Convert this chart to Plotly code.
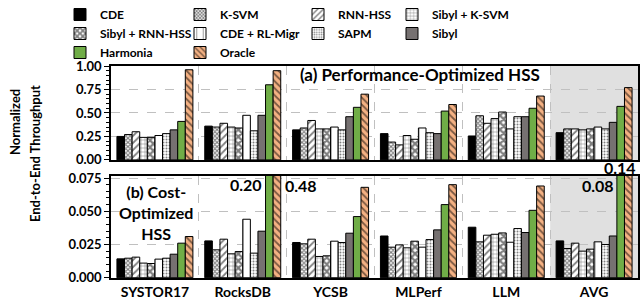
import plotly.graph_objects as go

categories = ["SYSTOR17", "RocksDB", "YCSB", "MLPerf", "LLM", "AVG"]
series_names = ["CDE", "K-SVM", "RNN-HSS", "Sibyl + K-SVM", "Sibyl + RNN-HSS",
                "CDE + RL-Migr", "SAPM", "Sibyl", "Harmonia", "Oracle"]

# (a) Performance-Optimized HSS
perf_cde = [0.25, 0.36, 0.32, 0.28, 0.255, 0.29]
perf_ksvm = [0.27, 0.35, 0.34, 0.19, 0.47, 0.33]
perf_rnn = [0.30, 0.39, 0.42, 0.16, 0.39, 0.33]
perf_sibyl_ksvm = [0.24, 0.35, 0.33, 0.26, 0.44, 0.32]
perf_sibyl_rnn = [0.24, 0.34, 0.33, 0.22, 0.51, 0.33]
perf_cde_rl = [0.26, 0.475, 0.35, 0.34, 0.33, 0.35]
perf_sapm = [0.28, 0.31, 0.32, 0.29, 0.46, 0.33]
perf_sibyl = [0.32, 0.475, 0.46, 0.28, 0.46, 0.40]
perf_harmonia = [0.41, 0.80, 0.56, 0.52, 0.55, 0.57]
perf_oracle = [0.96, 0.95, 0.70, 0.59, 0.68, 0.77]

# (b) Cost-Optimized HSS
cost_cde = [0.0142, 0.0277, 0.0265, 0.0314, 0.038, 0.0277]
cost_ksvm = [0.0147, 0.021, 0.0255, 0.023, 0.027, 0.022]
cost_rnn = [0.0155, 0.029, 0.029, 0.0247, 0.032, 0.026]
cost_sibyl_ksvm = [0.011, 0.018, 0.016, 0.0225, 0.0327, 0.020]
cost_sibyl_rnn = [0.0107, 0.0197, 0.0165, 0.0275, 0.0337, 0.0215]
cost_cde_rl = [0.014, 0.044, 0.0275, 0.023, 0.0267, 0.027]
cost_sapm = [0.0147, 0.0185, 0.0265, 0.0287, 0.037, 0.025]
cost_sibyl = [0.0177, 0.035, 0.0335, 0.036, 0.034, 0.0314]
cost_harmonia = [0.026, 0.20, 0.046, 0.055, 0.0507, 0.08]
cost_oracle = [0.031, 0.48, 0.068, 0.070, 0.069, 0.14]

# Tick values
perf_ticks = [0.0, 0.25, 0.5, 0.75, 1.0]
cost_ticks = [0.0, 0.025, 0.05, 0.075]

# Off-scale labels in panel (b)
offscale_labels = ["0.20", "0.48", "0.08", "0.14"]

perf = [perf_cde, perf_ksvm, perf_rnn, perf_sibyl_ksvm, perf_sibyl_rnn,
        perf_cde_rl, perf_sapm, perf_sibyl, perf_harmonia, perf_oracle]
cost = [cost_cde, cost_ksvm, cost_rnn, cost_sibyl_ksvm, cost_sibyl_rnn,
        cost_cde_rl, cost_sapm, cost_sibyl, cost_harmonia, cost_oracle]

styles = [
    dict(color="black", pattern=dict(shape="")),
    dict(color="white", pattern=dict(shape="x", fgcolor="black", bgcolor="white", size=3, solidity=0.6)),
    dict(color="white", pattern=dict(shape="/", fgcolor="black", bgcolor="white", size=5, solidity=0.35)),
    dict(color="white", pattern=dict(shape="+", fgcolor="black", bgcolor="white", size=4, solidity=0.25)),
    dict(color="white", pattern=dict(shape="x", fgcolor="black", bgcolor="white", size=5, solidity=0.7)),
    dict(color="white", pattern=dict(shape="|", fgcolor="black", bgcolor="white", size=8, solidity=0.12)),
    dict(color="white", pattern=dict(shape=".", fgcolor="black", bgcolor="white", size=3, solidity=0.35)),
    dict(color="#767171", pattern=dict(shape="")),
    dict(color="#70ad47", pattern=dict(shape="")),
    dict(color="#f4b183", pattern=dict(shape="\\", fgcolor="black", bgcolor="#f4b183", size=5, solidity=0.35)),
]

FONT = "Lato"
fig = go.Figure()
legend_ids = ["legend", "legend2", "legend3", "legend4"]

for i, name in enumerate(series_names):
    st = styles[i]
    marker = dict(color=st["color"], line=dict(color="black", width=1))
    if st["pattern"]["shape"]:
        marker["pattern"] = st["pattern"]
    fig.add_trace(go.Bar(x=categories, y=perf[i], name=name, marker=marker,
                         xaxis="x2", yaxis="y2", showlegend=True,
                         legend=legend_ids[i % 4], legendgroup=name))
    fig.add_trace(go.Bar(x=categories, y=cost[i], name=name, marker=marker,
                         xaxis="x", yaxis="y", showlegend=False, legendgroup=name))

tickfont = dict(family=FONT, size=13, color="black", weight="bold")
grid = dict(showgrid=True, gridcolor="#c0c0c0", griddash="dash", gridwidth=1)

fig.update_layout(
    width=640, height=307,
    margin=dict(l=111, r=2, t=66, b=29, autoexpand=False),
    plot_bgcolor="white", paper_bgcolor="white",
    barmode="group", bargap=0.135, bargroupgap=0,
    font=dict(family=FONT, color="black"),
    xaxis=dict(domain=[0, 1], anchor="y", type="category", tickson="boundaries",
               ticks="", showline=True, linecolor="black", linewidth=1.5, mirror=True,
               tickfont=dict(family=FONT, size=14, color="black", weight="bold"), **grid),
    xaxis2=dict(domain=[0, 1], anchor="y2", type="category", tickson="boundaries",
                ticks="", showticklabels=False,
                showline=True, linecolor="black", linewidth=1.5, mirror=True, **grid),
    yaxis=dict(domain=[0, 0.481], anchor="x", range=[-0.0002, 0.0765],
               tickmode="array", tickvals=cost_ticks,
               ticktext=[f"{v:.3f}" for v in cost_ticks],
               ticks="outside", ticklen=5, tickcolor="black", ticklabeloverflow="allow",
               minor=dict(tickmode="linear", tick0=0, dtick=0.005, ticks="outside", ticklen=3,
                          tickcolor="black", showgrid=False),
               showline=True, linecolor="black", linewidth=1.5, mirror=True,
               tickfont=tickfont, zeroline=False, **grid),
    yaxis2=dict(domain=[0.557, 1], anchor="x2", range=[0, 1.0],
                tickmode="array", tickvals=perf_ticks,
                ticktext=[f"{v:.2f}" for v in perf_ticks],
                ticks="outside", ticklen=5, tickcolor="black", ticklabeloverflow="allow",
                minor=dict(tickmode="linear", tick0=0, dtick=0.05, ticks="outside", ticklen=3,
                           tickcolor="black", showgrid=False),
                showline=True, linecolor="black", linewidth=1.5, mirror=True,
                tickfont=tickfont, zeroline=False, **grid),
)

leg_font = dict(family=FONT, size=12, color="black", weight="bold")
leg_x = [60, 180, 298, 392]
for lid, lx in zip(legend_ids, leg_x):
    fig.update_layout({lid: dict(orientation="v", xref="container", yref="container",
                                 x=lx / 640, y=1, xanchor="left", yanchor="top",
                                 bgcolor="rgba(0,0,0,0)", font=leg_font,
                                 tracegroupgap=0)})

# AVG shaded region
for xr, yr in [("x", "y domain"), ("x2", "y2 domain")]:
    fig.add_shape(type="rect", xref=xr, yref=yr, x0=4.5, x1=5.5, y0=0, y1=1,
                  fillcolor="#e0e0e0", line=dict(width=0), layer="below")

ann_font = dict(family=FONT, size=16, color="black", weight="bold")
fig.add_annotation(text="(a) Performance-Optimized HSS", xref="paper", yref="paper",
                   x=0.586, y=0.958, xanchor="center", yanchor="middle", showarrow=False,
                   font=dict(family=FONT, size=17, color="black", weight="bold"))
fig.add_annotation(text="(b) Cost-<br>Optimized<br>HSS", xref="paper", yref="paper",
                   x=0.085, y=0.311, xanchor="center", yanchor="middle", showarrow=False,
                   font=ann_font)

fig.add_annotation(text=offscale_labels[0], xref="x", yref="paper", x=1.24, y=0.443,
                   xanchor="right", yanchor="middle", showarrow=False, font=ann_font)
fig.add_annotation(text=offscale_labels[1], xref="x", yref="paper", x=1.46, y=0.437,
                   xanchor="left", yanchor="middle", showarrow=False, font=ann_font)
fig.add_annotation(text=offscale_labels[2], xref="x", yref="paper", x=5.25, y=0.437,
                   xanchor="right", yanchor="middle", showarrow=False, font=ann_font)
fig.add_annotation(text=offscale_labels[3], xref="x", yref="paper", x=5.5, y=0.519,
                   xanchor="right", yanchor="middle", showarrow=False, font=ann_font)

title_font = dict(family=FONT, size=13, color="black", weight="bold")
fig.add_annotation(text="Normalized", xref="paper", yref="paper",
                   x=-0.182, y=(278 - 122) / 212, xanchor="center", yanchor="middle",
                   textangle=-90, showarrow=False, font=title_font)
fig.add_annotation(text="End-to-End Throughput", xref="paper", yref="paper",
                   x=-0.144, y=(278 - 154) / 212, xanchor="center", yanchor="middle",
                   textangle=-90, showarrow=False, font=title_font)

fig.write_html("out.html", config={"displayModeBar": False},
               post_script="document.body.style.margin='0';")
